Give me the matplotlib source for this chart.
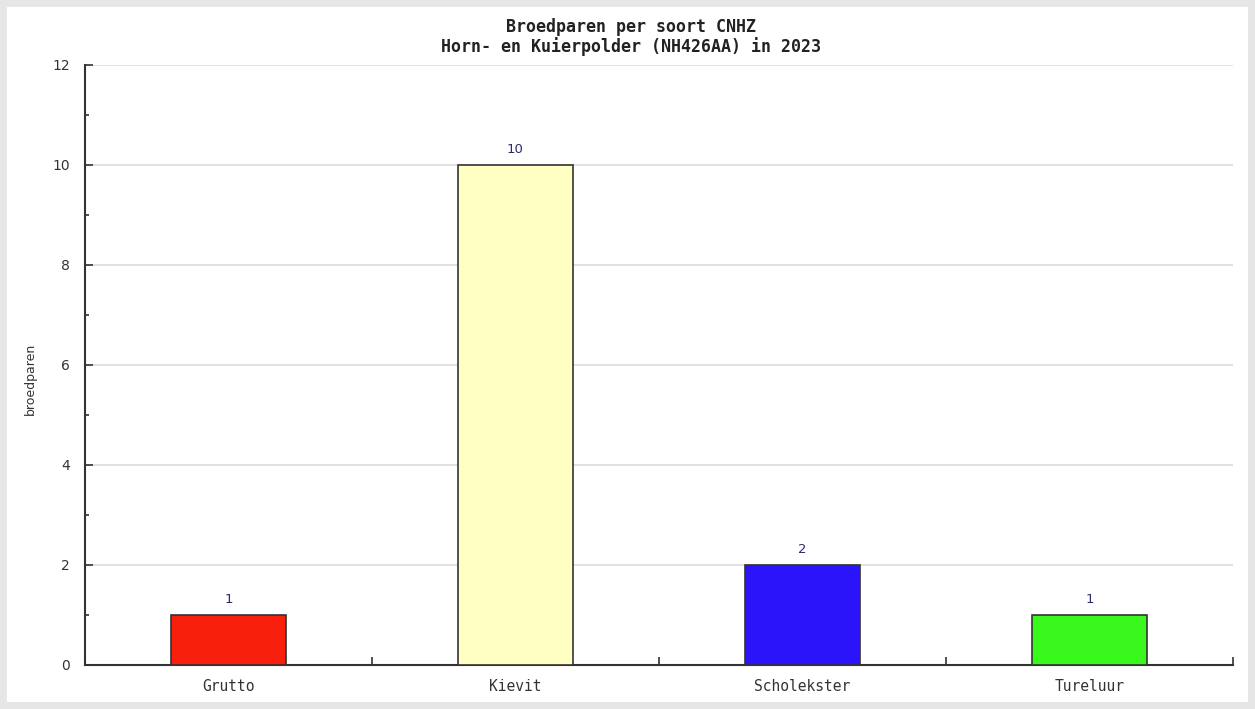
import numpy as np
import matplotlib.pyplot as plt
from matplotlib.patches import Rectangle

soorten = ["Grutto", "Kievit", "Scholekster", "Tureluur"]
broedparen = [1, 10, 2, 1]
kleuren = ["#f8200c", "#ffffc4", "#2c14fa", "#38f81c"]
titel = "Broedparen per soort CNHZ\nHorn- en Kuierpolder (NH426AA) in 2023"

fig = plt.figure(figsize=(12.55, 7.09), dpi=100)
W, H = 1255, 709
ax = fig.add_axes([85 / W, 1 - 665 / H, (1233 - 85) / W, 600 / H])

# frame/shadow around the picture
fig.patches.append(Rectangle((0, 0), 1, 1, transform=fig.transFigure, zorder=-1,
                             facecolor="none", edgecolor="#e6e6e6", lw=10))

x = np.arange(len(soorten)) + 0.5
ax.bar(x, broedparen, width=0.4, color=kleuren, edgecolor="#333333", lw=1.2, zorder=3)
for xi, v in zip(x, broedparen):
    ax.text(xi, v + 0.18, str(v), ha="center", va="bottom", color="#2b2b6b",
            fontsize=9.5, fontfamily="DejaVu Sans")

ax.set_xlim(0, len(soorten))
ax.set_ylim(0, 12)
ax.set_xticks(np.arange(len(soorten) + 1))
ax.set_xticklabels([])
ax.set_xticks(x, minor=True)
ax.set_xticklabels(soorten, minor=True, fontfamily="DejaVu Sans Mono", fontsize=10.5, color="#333333")
ax.tick_params(axis="x", which="major", direction="in", length=6, width=1.2, color="#333333")
ax.tick_params(axis="x", which="minor", length=0, pad=10)

ax.set_yticks(np.arange(0, 13, 2))
ax.set_yticks(np.arange(1, 12, 2), minor=True)
ax.tick_params(axis="y", which="major", direction="in", length=6, width=1.2,
               color="#333333", labelsize=10, labelcolor="#333333", pad=11)
ax.tick_params(axis="y", which="minor", direction="in", length=3, width=1.2, color="#333333")
ax.yaxis.grid(True, color="#dddddd", lw=1.2, zorder=0)

for s in ["top", "right"]:
    ax.spines[s].set_visible(False)
for s in ["left", "bottom"]:
    ax.spines[s].set_color("#333333")
    ax.spines[s].set_linewidth(1.5)

ax.set_ylabel("broedparen", fontsize=9, color="#333333")
ax.yaxis.set_label_coords((37 - 85) / 1148, 0.477)

fig.text(631 / W, 1 - 37 / H, titel, ha="center", va="center", fontsize=12,
         fontweight="bold", fontfamily="DejaVu Sans Mono", color="#222222", linespacing=1.1)

fig.savefig("out.png", dpi=100)
